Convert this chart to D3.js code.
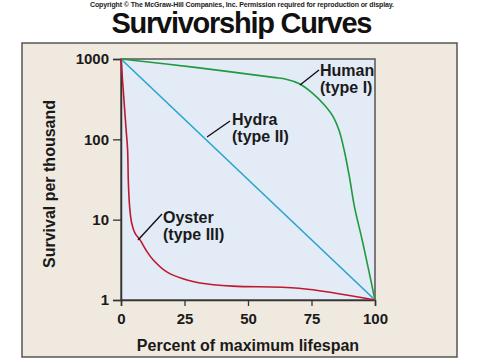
<!DOCTYPE html>
<html>
<head>
<meta charset="utf-8">
<script src="https://cdn.jsdelivr.net/npm/d3@7"></script>
<style>
  body { margin: 0; background: #fff; }
  text { font-family: "Liberation Sans", Arial, Helvetica, sans-serif; }
</style>
</head>
<body>
<svg id="chart"></svg>
<script>
// survival per thousand (log scale)
const humanX = [0, 30, 60, 65, 70, 75, 80, 83.5, 86, 88, 90, 92, 95, 100];
const humanY = [1000, 780, 590, 560, 495, 385, 270, 192, 125, 70, 33, 14, 5.5, 1];

const hydraX = [0, 100];
const hydraY = [1000, 1];

const oysterX = [0, 1, 2, 2.6, 2.9, 3.4, 4.2, 5.5, 7.5, 10, 12.7, 18, 26, 31, 44, 70, 100];
const oysterY = [1000, 366, 134, 74, 29, 14.5, 9.1, 6.8, 5.6, 4.1, 3.15, 2.24, 1.77, 1.63, 1.49, 1.4, 1];

const xTicks = [0, 25, 50, 75, 100];
const yTicks = [1, 10, 100, 1000];

const series = [
  { name: "Human", type: "(type I)", xs: humanX, ys: humanY, color: "#1f9a3c" },
  { name: "Hydra", type: "(type II)", xs: hydraX, ys: hydraY, color: "#28a5cc" },
  { name: "Oyster", type: "(type III)", xs: oysterX, ys: oysterY, color: "#c0182e" }
];

var width = 480, height = 360;
var svg = d3.select('#chart').attr('width', width).attr('height', height);

// plot area (note: "top" is reserved on window, so use pl/pr/pt/pb)
var pl = 121, pr = 375, pt = 59, pb = 300;

var x = d3.scaleLinear().domain([0, 100]).range([pl, pr]);
var y = d3.scaleLog().domain([1, 1000]).range([pb, pt]);

// copyright line + title
svg.append('text')
  .attr('x', 242).attr('y', 7)
  .attr('text-anchor', 'middle')
  .attr('font-size', 7)
  .attr('font-weight', 'bold')
  .attr('textLength', 304)
  .attr('fill', '#222')
  .text('Copyright \u00A9 The McGraw-Hill Companies, Inc. Permission required for reproduction or display.');

svg.append('text')
  .attr('x', 242).attr('y', 33)
  .attr('text-anchor', 'middle')
  .attr('font-size', 29)
  .attr('font-weight', 'bold')
  .attr('textLength', 261)
  .attr('fill', '#111')
  .text('Survivorship Curves');

// beige panel
svg.append('rect')
  .attr('x', 22).attr('y', 43)
  .attr('width', 435).attr('height', 314)
  .attr('fill', '#f0e9df')
  .attr('stroke', '#555')
  .attr('stroke-width', 1.5);

// plot background
svg.append('rect')
  .attr('x', pl).attr('y', pt)
  .attr('width', pr - pl).attr('height', pb - pt)
  .attr('fill', '#e2ebf6')
  .attr('stroke', '#555')
  .attr('stroke-width', 1.5);

// axes
var xAxis = d3.axisBottom(x).tickValues(xTicks).tickSize(6).tickPadding(5).tickFormat(d3.format('d'));
var yAxis = d3.axisLeft(y).tickValues(yTicks).tickSize(8).tickPadding(4).tickFormat(d3.format('d'));

var gx = svg.append('g').attr('transform', 'translate(0,' + pb + ')').call(xAxis);
var gy = svg.append('g').attr('transform', 'translate(' + pl + ',0)').call(yAxis);

[gx, gy].forEach(g => {
  g.select('.domain').attr('stroke', '#333').attr('stroke-width', 1.5);
  g.selectAll('.tick line').attr('stroke', '#333').attr('stroke-width', 1.3);
  g.selectAll('.tick text')
    .attr('font-family', '"Liberation Sans", Arial, sans-serif')
    .attr('font-size', 15)
    .attr('font-weight', 'bold')
    .attr('fill', '#1a1a1a');
});
gx.selectAll('.tick text').attr('dy', '0.85em');

// axis titles
svg.append('text')
  .attr('x', (pl + pr) / 2).attr('y', 351)
  .attr('text-anchor', 'middle')
  .attr('font-size', 16)
  .attr('font-weight', 'bold')
  .attr('fill', '#1a1a1a')
  .text('Percent of maximum lifespan');

svg.append('text')
  .attr('transform', 'translate(55,184) rotate(-90)')
  .attr('text-anchor', 'middle')
  .attr('font-size', 16)
  .attr('font-weight', 'bold')
  .attr('fill', '#1a1a1a')
  .text('Survival per thousand');

// curves
var line = d3.line()
  .x(d => x(d[0]))
  .y(d => y(d[1]))
  .curve(d3.curveCatmullRom.alpha(0.5));

series.forEach(s => {
  var pts = s.xs.map((v, i) => [v, s.ys[i]]);
  svg.append('path')
    .attr('d', line(pts))
    .attr('fill', 'none')
    .attr('stroke', s.color)
    .attr('stroke-width', 1.6);
});

// labels with leader lines (text position, then leader from near the text to the curve)
var labels = [
  { s: series[0], tx: 320, ty: 76, lead: [[319, 70], [300, 85]] },
  { s: series[1], tx: 232, ty: 125, lead: [[230, 121], [207, 137]] },
  { s: series[2], tx: 163, ty: 223, lead: [[162, 214], [138, 240]] }
];

labels.forEach(l => {
  svg.append('line')
    .attr('x1', l.lead[0][0]).attr('y1', l.lead[0][1])
    .attr('x2', l.lead[1][0]).attr('y2', l.lead[1][1])
    .attr('stroke', '#111')
    .attr('stroke-width', 1.4);
  var t = svg.append('text')
    .attr('x', l.tx).attr('y', l.ty)
    .attr('font-size', 16)
    .attr('font-weight', 'bold')
    .attr('fill', '#1a1a1a');
  t.append('tspan').attr('x', l.tx).text(l.s.name);
  t.append('tspan').attr('x', l.tx).attr('dy', 17).text(l.s.type);
});
</script>
</body>
</html>
